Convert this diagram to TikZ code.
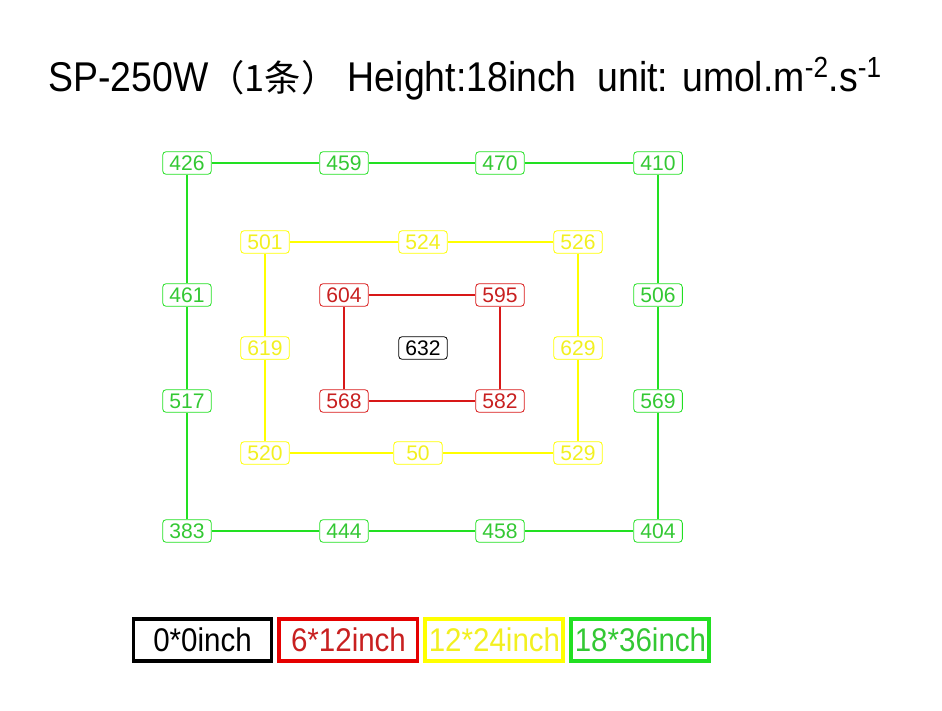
\documentclass[tikz,border=0pt]{standalone}
\usepackage{fontspec}
\setmainfont{Liberation Sans}
\newfontfamily\cjk{Noto Sans CJK SC}
\newfontfamily\narrow[FakeStretch=0.9]{Liberation Sans}
\usepackage{xcolor}
\usetikzlibrary{positioning}

\definecolor{grn}{HTML}{22E022}
\definecolor{grntxt}{HTML}{33C833}
\definecolor{ylw}{HTML}{FFFF00}
\definecolor{ylwtxt}{HTML}{F2F020}
\definecolor{rd}{HTML}{D81818}
\definecolor{rdtxt}{HTML}{C82020}

\begin{document}
\begin{tikzpicture}[
  x=0.03cm, y=-0.03cm,
  every node/.style={font=\fontsize{18}{20}\selectfont},
  val/.style={draw, rounded corners=3pt, minimum width=1.46cm, minimum height=0.68cm, inner sep=1pt, line width=0.7pt},
  gval/.style={val, draw=grn, text=grntxt},
  yval/.style={val, draw=ylw, text=ylwtxt},
  rval/.style={val, draw=rd, text=rdtxt},
  gline/.style={draw=grn, line width=1.3pt},
  yline/.style={draw=ylw, line width=1.6pt},
  rline/.style={draw=rd, line width=1.2pt},
  key/.style={draw, line width=3.4pt, minimum width=4.14cm, minimum height=1.26cm, inner sep=0pt, font=\narrow\fontsize{28}{30}\selectfont},
]
  \useasboundingbox (0,0) rectangle (942,711);

  % title
  \node[anchor=base west, inner sep=0pt, font=\narrow\fontsize{35.5}{38}\selectfont] (title) at (48,92)
    {SP-250W{\cjk\fontsize{31}{33}\selectfont（1条）}\ Height:18inch\ \ unit: umol.m\textsuperscript{\raisebox{0.15em}{-2}}.s\textsuperscript{\raisebox{0.15em}{-1}}};

  % 18*36inch
  \node[gval] (g1) at (187,163) {426};
  \node[gval] (g2) at (344,163) {459};
  \node[gval] (g3) at (500,163) {470};
  \node[gval] (g4) at (658,163) {410};
  \node[gval] (g5) at (658,295) {506};
  \node[gval] (g6) at (658,401) {569};
  \node[gval] (g7) at (658,531) {404};
  \node[gval] (g8) at (500,531) {458};
  \node[gval] (g9) at (344,531) {444};
  \node[gval] (g10) at (187,531) {383};
  \node[gval] (g11) at (187,401) {517};
  \node[gval] (g12) at (187,295) {461};
  \draw[gline] (g1) -- (g2) -- (g3) -- (g4) -- (g5) -- (g6) -- (g7) -- (g8) -- (g9) -- (g10) -- (g11) -- (g12) -- (g1);

  % 12*24inch
  \node[yval] (y1) at (265,242) {501};
  \node[yval] (y2) at (423,242) {524};
  \node[yval] (y3) at (578,242) {526};
  \node[yval] (y4) at (578,348) {629};
  \node[yval] (y5) at (578,453) {529};
  \node[yval] (y6) at (418,453) {50};
  \node[yval] (y7) at (265,453) {520};
  \node[yval] (y8) at (265,348) {619};
  \draw[yline] (y1) -- (y2) -- (y3) -- (y4) -- (y5) -- (y6) -- (y7) -- (y8) -- (y1);

  % 6*12inch
  \node[rval] (r1) at (344,295) {604};
  \node[rval] (r2) at (500,295) {595};
  \node[rval] (r3) at (500,401) {582};
  \node[rval] (r4) at (344,401) {568};
  \draw[rline] (r1) -- (r2) -- (r3) -- (r4) -- (r1);

  % centre
  \node[val, draw=black] (c) at (423,348) {632};

  % legend
  \node[key, draw=black] (k1) at (202.5,640) {0*0inch};
  \node[key, draw=red!90!black, text=rdtxt, right=0.12cm of k1] (k2) {6*12inch};
  \node[key, draw=ylw, text=ylwtxt, right=0.12cm of k2] (k3) {12*24inch};
  \node[key, draw=grn, text=grntxt, right=0.12cm of k3] (k4) {18*36inch};
\end{tikzpicture}
\end{document}
